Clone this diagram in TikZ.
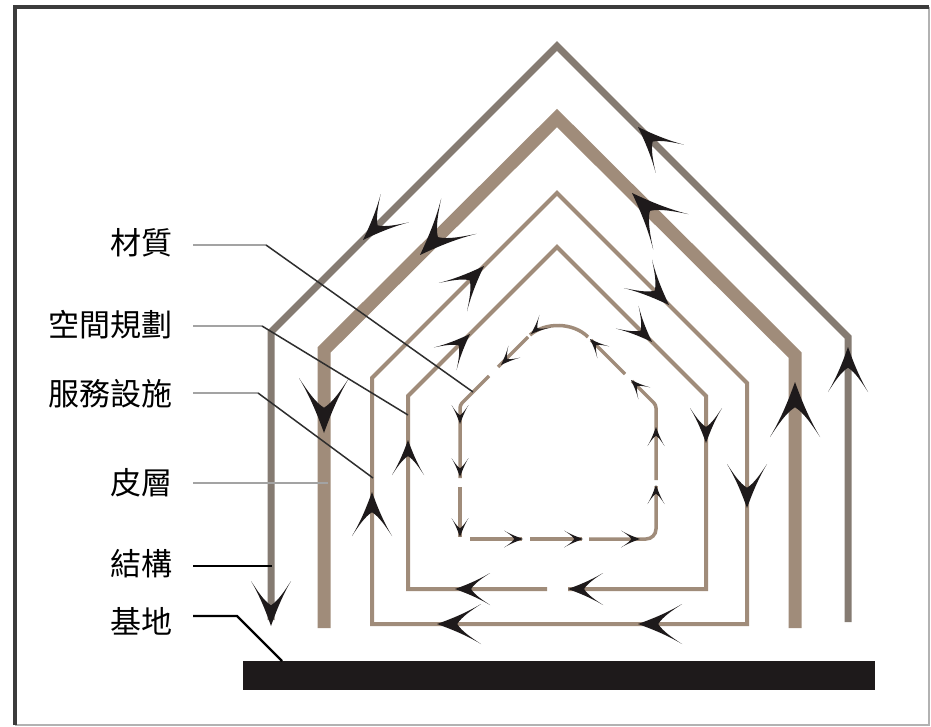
\documentclass[tikz,border=0pt]{standalone}
\usepackage{fontspec}
\newfontfamily\cjk{Noto Sans CJK TC}
\definecolor{outc}{HTML}{857B72}
\definecolor{tanc}{HTML}{A08C7A}
\definecolor{arrc}{HTML}{1E1A1B}
\definecolor{leadgc}{HTML}{A3A3A3}
\definecolor{leaddc}{HTML}{2E2E2E}
\definecolor{framedc}{HTML}{3C3C3C}
\tikzset{
  framedark/.style={draw=framedc, line width=3.2pt},
  framelight/.style={draw=black!30, line width=1.2pt},
  structline/.style={draw=outc, line width=7pt, miter limit=10},
  skinline/.style={draw=tanc, line width=13pt, miter limit=10},
  planline/.style={draw=tanc, line width=4pt, miter limit=10},
  innerline/.style={draw=tanc, line width=3.5pt},
  leadgray/.style={draw=leadgc, line width=2.6pt},
  leaddark/.style={draw=leaddc, line width=1.5pt},
  leadblack/.style={draw=black, line width=2.4pt},
  lab/.style={anchor=east, inner sep=0pt, font=\cjk\fontsize{31}{36}\selectfont, text=black},
  arrowfill/.style={fill=arrc}
}
\newcommand\arrhd[4]{%
  \fill[arrowfill, shift={(#1)}, rotate=#2, xscale=#3, yscale=#4]
    (0,0) .. controls (-0.25,0.2) and (-0.62,0.5) .. (-1,1)
    .. controls (-0.78,0.68) and (-0.56,0.36) .. (-0.46,0)
    .. controls (-0.56,-0.36) and (-0.78,-0.68) .. (-1,-1)
    .. controls (-0.62,-0.5) and (-0.25,-0.2) .. (0,0) -- cycle;}
\begin{document}
\begin{tikzpicture}[x=1pt, y=-1pt]
\useasboundingbox (0,0) rectangle (931,727);
\fill[white] (0,0) rectangle (931,727);
% frame
\draw[framelight] (929,7) -- (929,725) -- (15,725);
\draw[framedark] (15,725) -- (15,7) -- (929,7);
% ground
\fill[arrc] (243,661) rectangle (875,690);
% house outlines
\draw[structline] (271,620) -- (271,332) -- (557,46) -- (848,337) -- (848,622);
\draw[skinline] (324,628) -- (324,350) -- (557,118) -- (795,355) -- (795,628);
\draw[planline] (372,624) -- (372,378) -- (557,193) -- (747,383) -- (747,624) -- cycle;
\draw[planline] (547,589) -- (408,589) -- (408,396) -- (557,247) -- (706,396) -- (706,589) -- (568,589);
% innermost dashed loop
\draw[innerline] (588,337) .. controls (573,322) and (545,322) .. (530,335);
\draw[innerline] (528,337) -- (498,367);
\draw[innerline, rounded corners=3pt] (489,376) -- (460,405) -- (460,478);
\draw[innerline] (460,487) -- (460,537);
\draw[innerline] (470,539) -- (522,539);
\draw[innerline] (530,539) -- (582,539);
\draw[innerline, rounded corners=10pt] (589,539) -- (656,539) -- (656,486);
\draw[innerline, rounded corners=3pt] (656,480) -- (656,405) -- (632,381);
\draw[innerline] (625,374) -- (591,340);
% labels
\node[lab] (tMat) at (173,243) {材質};
\node[lab] (tSpace) at (173,325) {空間規劃};
\node[lab] (tServ) at (173,394) {服務設施};
\node[lab] (tSkin) at (173,483) {皮層};
\node[lab] (tStruct) at (173,564) {結構};
\node[lab] (tSite) at (173,621) {基地};
% leader coordinates
\coordinate (mA) at (193,245); \coordinate (mB) at (266,245); \coordinate (mC) at (473,392);
\coordinate (sA) at (193,326); \coordinate (sB) at (262,326); \coordinate (sC) at (408,415);
\coordinate (vA) at (193,393); \coordinate (vB) at (258,393); \coordinate (vC) at (373,478);
\coordinate (kA) at (193,483); \coordinate (kB) at (328,483);
\coordinate (jA) at (193,566); \coordinate (jB) at (272,566);
\coordinate (gA) at (193,616); \coordinate (gB) at (237,616); \coordinate (gC) at (282,661);
% leaders
\draw[leadgray] (mA) -- (mB);
\draw[leaddark] (mB) -- (mC);
\draw[leadgray] (sA) -- (sB);
\draw[leaddark] (sB) -- (sC);
\draw[leadgray] (vA) -- (vB);
\draw[leaddark] (vB) -- (vC);
\draw[leadgray] (kA) -- (kB);
\draw[leadblack] (jA) -- (jB);
\draw[leadblack, line join=miter] (gA) -- (gB) -- (gC);
% arrowheads: structure
\arrhd{363,240}{225}{45}{20}
\arrhd{638,127}{135}{45}{20}
\arrhd{848,347}{90}{45}{20}
\arrhd{271,626}{270}{45}{20}
% skin
\arrhd{420,255}{225}{55}{25}
\arrhd{632,193}{135}{55}{25}
\arrhd{324,433}{270}{55}{25}
\arrhd{795,382}{90}{55}{25}
% space planning
\arrhd{484,266}{45}{44}{20}
\arrhd{669,305}{-45}{44}{20}
\arrhd{747,508}{270}{44}{20}
\arrhd{638,624}{180}{44}{20}
\arrhd{437,624}{180}{44}{20}
\arrhd{372,492}{90}{44}{20}
% services
\arrhd{470,334}{45}{35}{16}
\arrhd{652,342}{-45}{35}{16}
\arrhd{706,443}{270}{35}{16}
\arrhd{568,589}{180}{35}{16}
\arrhd{455,589}{180}{35}{16}
\arrhd{408,440}{90}{35}{16}
% material
\arrhd{531,334}{222}{19}{8.5}
\arrhd{501,365}{225}{19}{8.5}
\arrhd{460,424}{270}{19}{8.5}
\arrhd{460,477}{270}{19}{8.5}
\arrhd{460,537}{270}{19}{8.5}
\arrhd{523,539}{0}{19}{8.5}
\arrhd{583,539}{0}{19}{8.5}
\arrhd{640,539}{0}{19}{8.5}
\arrhd{656,485}{90}{19}{8.5}
\arrhd{656,427}{90}{19}{8.5}
\arrhd{631,380}{135}{19}{8.5}
\arrhd{590,339}{135}{19}{8.5}
\end{tikzpicture}
\end{document}
